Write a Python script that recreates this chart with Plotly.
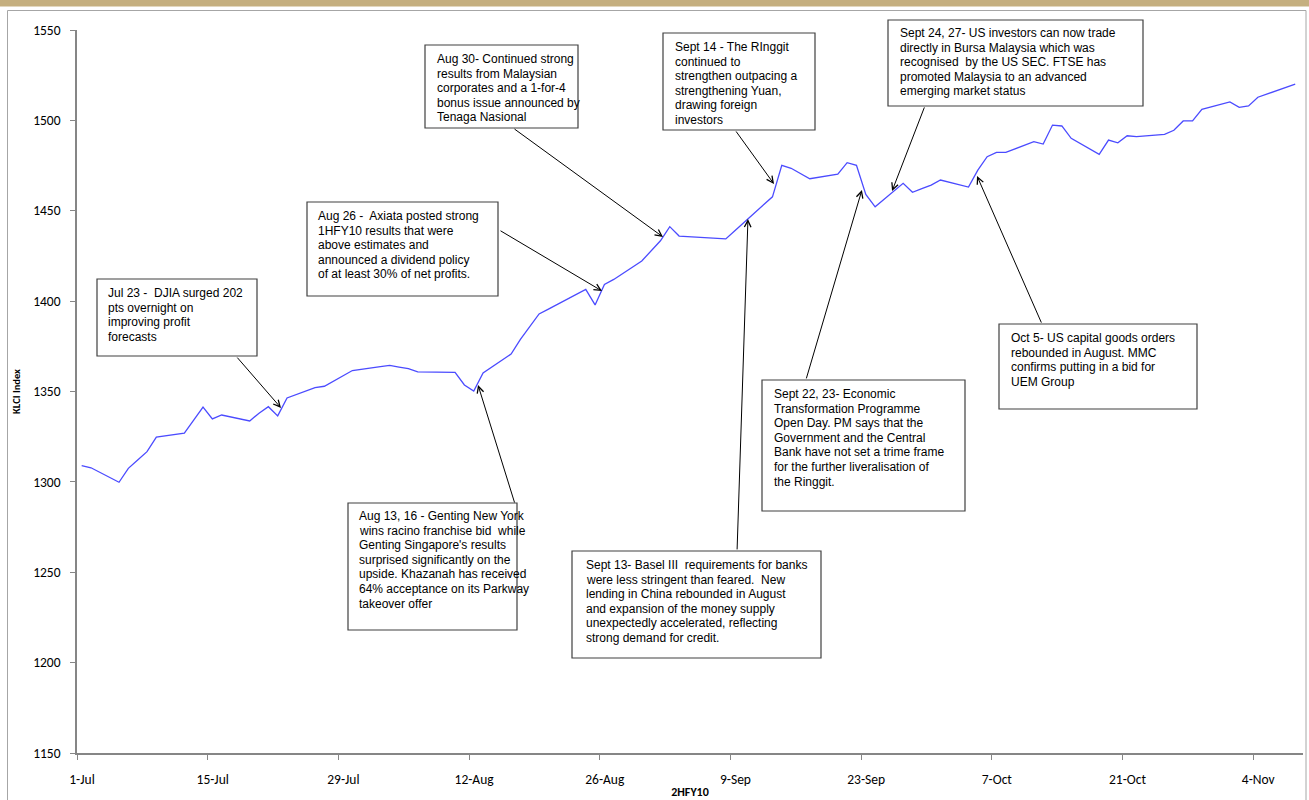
import pandas as pd
import plotly.graph_objects as go

# KLCI daily closes, 2HFY10
trade_dates = [
    "2010-07-01", "2010-07-02", "2010-07-05", "2010-07-06", "2010-07-07", "2010-07-08", "2010-07-09",
    "2010-07-12", "2010-07-13", "2010-07-14", "2010-07-15", "2010-07-16",
    "2010-07-19", "2010-07-20", "2010-07-21", "2010-07-22", "2010-07-23",
    "2010-07-26", "2010-07-27", "2010-07-28", "2010-07-29", "2010-07-30",
    "2010-08-02", "2010-08-03", "2010-08-04", "2010-08-05", "2010-08-06",
    "2010-08-09", "2010-08-10", "2010-08-11", "2010-08-12", "2010-08-13",
    "2010-08-16", "2010-08-17", "2010-08-18", "2010-08-19", "2010-08-20",
    "2010-08-23", "2010-08-24", "2010-08-25", "2010-08-26", "2010-08-27",
    "2010-08-30", "2010-09-01", "2010-09-02", "2010-09-03",
    "2010-09-06", "2010-09-07", "2010-09-08", "2010-09-09",
    "2010-09-13", "2010-09-14", "2010-09-15", "2010-09-17",
    "2010-09-20", "2010-09-21", "2010-09-22", "2010-09-23", "2010-09-24",
    "2010-09-27", "2010-09-28", "2010-09-29", "2010-09-30", "2010-10-01",
    "2010-10-04", "2010-10-05", "2010-10-06", "2010-10-07", "2010-10-08",
    "2010-10-11", "2010-10-12", "2010-10-13", "2010-10-14", "2010-10-15",
    "2010-10-18", "2010-10-19", "2010-10-20", "2010-10-21", "2010-10-22",
    "2010-10-25", "2010-10-26", "2010-10-27", "2010-10-28", "2010-10-29",
    "2010-11-01", "2010-11-02", "2010-11-03", "2010-11-04", "2010-11-08",
]
klci_close = [
    1309.0, 1307.8, 1299.8, 1307.5, 1312.1, 1316.7, 1324.8,
    1327.0, 1334.2, 1341.4, 1334.8, 1337.0,
    1333.7, 1338.0, 1341.6, 1336.5, 1346.4,
    1352.2, 1352.9, 1355.8, 1358.7, 1361.6,
    1363.8, 1364.4, 1363.5, 1362.6, 1360.9,
    1360.7, 1360.6, 1353.6, 1350.2, 1360.3,
    1370.7, 1378.8, 1386.0, 1392.9, 1395.6,
    1403.8, 1406.5, 1397.9, 1409.2, 1412.0,
    1422.2, 1433.4, 1441.2, 1436.0,
    1435.0, 1434.7, 1434.4, 1439.1,
    1457.7, 1475.1, 1473.5, 1467.7,
    1470.2, 1476.6, 1475.1, 1459.0, 1452.2,
    1465.2, 1460.2, 1462.2, 1464.2, 1467.0,
    1463.1, 1472.5, 1479.9, 1482.3, 1482.3,
    1488.2, 1486.9, 1497.4, 1496.9, 1490.1,
    1481.2, 1489.1, 1487.6, 1491.5, 1491.0,
    1492.3, 1494.5, 1499.7, 1499.7, 1506.1,
    1510.2, 1507.2, 1508.0, 1512.8, 1520.1,
]

tick_dates = ["2010-07-01", "2010-07-15", "2010-07-29", "2010-08-12", "2010-08-26",
              "2010-09-09", "2010-09-23", "2010-10-07", "2010-10-21", "2010-11-04"]
tick_labels = ["1-Jul", "15-Jul", "29-Jul", "12-Aug", "26-Aug",
               "9-Sep", "23-Sep", "7-Oct", "21-Oct", "4-Nov"]
y_ticks = [1150, 1200, 1250, 1300, 1350, 1400, 1450, 1500, 1550]

# event call-outs: text lines, arrow head and arrow tail (date, index level)
events = [
    (["Jul 23 -  DJIA surged 202", "pts overnight on", "improving profit", "forecasts"],
     ("2010-07-22 20:30", 1340.9), ("2010-07-18 00:45", 1369.6)),
    (["Aug 13, 16 - Genting New York", "wins racino franchise bid  while",
      "Genting Singapore's results", "surprised significantly on the",
      "upside. Khazanah has received", "64% acceptance on its Parkway", "takeover offer"],
     ("2010-08-12 23:00", 1353.6), ("2010-08-16 22:00", 1287.8)),
    (["Aug 26 -  Axiata posted strong", "1HFY10 results that were", "above estimates and",
      "announced a dividend policy", "of at least 30% of net profits."],
     ("2010-08-26 05:45", 1405.6), ("2010-08-15 05:00", 1439.4)),
    (["Aug 30- Continued strong", "results from Malaysian", "corporates and a 1-for-4",
      "bonus issue announced by", "Tenaga Nasional"],
     ("2010-09-01 18:30", 1435.5), ("2010-08-16 17:00", 1495.8)),
    (["Sept 14 - The RInggit", "continued to", "strengthen outpacing a",
      "strengthening Yuan,", "drawing foreign", "investors"],
     ("2010-09-13 16:00", 1464.8), ("2010-09-09 11:45", 1494.7)),
    (["Sept 24, 27- US investors can now trade", "directly in Bursa Malaysia which was",
      "recognised  by the US SEC. FTSE has", "promoted Malaysia to an advanced",
      "emerging market status"],
     ("2010-09-26 07:30", 1460.9), ("2010-09-29 20:00", 1508.0)),
    (["Sept 13- Basel III  requirements for banks", "were less stringent than feared.  New",
      "lending in China rebounded in August", "and expansion of the money supply",
      "unexpectedly accelerated, reflecting", "strong demand for credit."],
     ("2010-09-10 21:00", 1445.4), ("2010-09-09 17:00", 1261.8)),
    (["Sept 22, 23- Economic", "Transformation Programme", "Open Day. PM says that the",
      "Government and the Central", "Bank have not set a trime frame",
      "for the further liveralisation of", "the Ringgit."],
     ("2010-09-23 02:00", 1461.5), ("2010-09-17 02:00", 1356.4)),
    (["Oct 5- US capital goods orders", "rebounded in August. MMC",
      "confirms putting in a bid for", "UEM Group"],
     ("2010-10-05 10:00", 1469.2), ("2010-10-12 09:00", 1387.3)),
]

# call-out box geometry on the page (left, top, right, bottom, text left, first line y)
boxes = [
    (97, 279, 257, 356, 107, 293),
    (348, 503, 517, 630, 358, 516),
    (307, 202, 498, 296, 317, 216),
    (425, 45, 578, 128, 436, 59),
    (663, 33, 815, 130, 674, 47),
    (888, 20, 1143, 106, 899, 33),
    (572, 551, 821, 658, 585, 565),
    (762, 380, 965, 511, 773, 394),
    (999, 324, 1197, 409, 1010, 338),
]
LINE_STEP = 14.6

W, H = 1309, 800
L, R, T, B = 77, 1303, 30, 753


def px(x):
    return (x - L) / (R - L)


def py(y):
    return (B - y) / (B - T)


x_mid = pd.to_datetime(trade_dates) + pd.Timedelta(hours=12)

fig = go.Figure()
fig.add_trace(go.Scatter(
    x=x_mid, y=klci_close, mode="lines",
    line=dict(color="#4B4BFF", width=1.3),
    hoverinfo="x+y", showlegend=False,
))

shapes = [
    # header band
    dict(type="rect", xref="paper", yref="paper", x0=px(0), x1=px(W), y0=py(6.5), y1=py(0),
         fillcolor="#C5AF7F", line=dict(width=0), layer="below"),
    # chart-area frame
    dict(type="rect", xref="paper", yref="paper", x0=px(7.5), x1=px(1306), y0=py(820), y1=py(10.5),
         fillcolor="rgba(0,0,0,0)", line=dict(color="#A6A6A6", width=1), layer="below"),
]

annotations = []
for (lines, head, tail), (x0, y0, x1, y1, tx, ty) in zip(events, boxes):
    annotations.append(dict(
        x=head[0], y=head[1], xref="x", yref="y",
        ax=tail[0], ay=tail[1], axref="x", ayref="y",
        text="", showarrow=True, arrowhead=5, arrowsize=1.3,
        arrowwidth=1, arrowcolor="#000000", standoff=0, startstandoff=0,
    ))
    shapes.append(dict(
        type="rect", xref="paper", yref="paper",
        x0=px(x0), x1=px(x1), y0=py(y1), y1=py(y0),
        fillcolor="white", line=dict(color="#404040", width=1.2), layer="above",
    ))
    for i, line in enumerate(lines):
        annotations.append(dict(
            x=px(tx - 1), y=py(ty + i * LINE_STEP), xref="paper", yref="paper",
            xanchor="left", yanchor="middle", showarrow=False, align="left",
            text=line, font=dict(family="Liberation Sans, Arial, sans-serif", size=12, color="#000000"),
        ))

axis_family = "Carlito, Calibri, Liberation Sans, Arial, sans-serif"
axis_font = dict(family=axis_family, size=13.5, color="#000000")

fig.update_layout(
    width=W, height=H,
    margin=dict(l=L, r=W - R, t=T, b=H - B, pad=0),
    paper_bgcolor="white", plot_bgcolor="white",
    showlegend=False,
    shapes=shapes,
    annotations=annotations,
    xaxis=dict(
        type="date",
        range=["2010-07-01 00:00", "2010-11-09 08:00"],
        tickmode="array", tickvals=tick_dates, ticktext=tick_labels,
        ticks="outside", ticklen=5, tickwidth=1, tickcolor="#868686",
        showline=True, linecolor="#868686", linewidth=1.6,
        showgrid=False, zeroline=False,
        tickfont=axis_font, ticklabelshift=5, ticklabelstandoff=8,
        title=dict(text="<b>2HFY10</b>", font=dict(family=axis_family, size=12, color="#000000"), standoff=1),
        automargin=False,
    ),
    yaxis=dict(
        range=[1150, 1550],
        tickmode="array", tickvals=y_ticks,
        ticks="outside", ticklen=5, tickwidth=1, tickcolor="#868686",
        showline=True, linecolor="#868686", linewidth=1.6,
        showgrid=False, zeroline=False,
        tickfont=axis_font, ticklabelstandoff=7,
        title=dict(text="<b>KLCI Index</b>", font=dict(family=axis_family, size=10.5, color="#000000"), standoff=10),
        automargin=False,
    ),
)

fig.write_html("out.html")
